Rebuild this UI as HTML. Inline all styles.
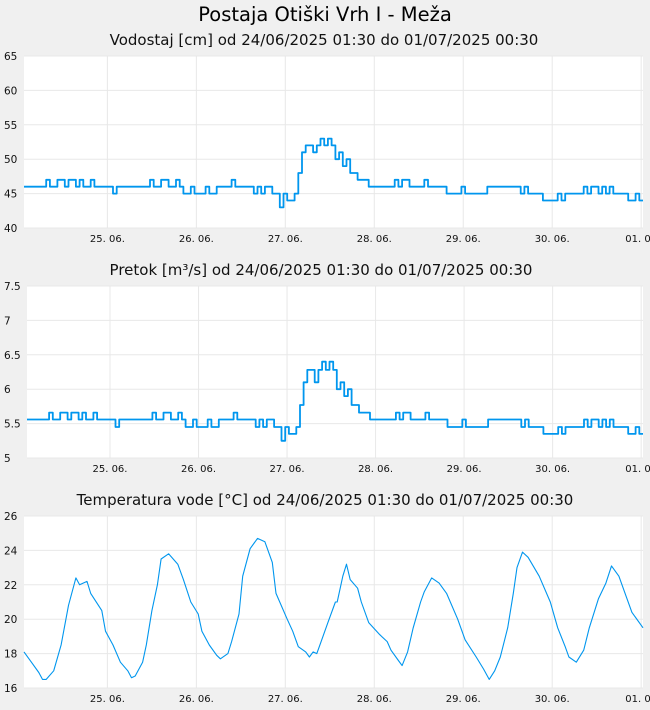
<!DOCTYPE html>
<html><head><meta charset="utf-8">
<style>
body{margin:0;background:#f0f0f0;font-family:"DejaVu Sans","Liberation Sans",sans-serif;}
svg{display:block}
</style></head>
<body>
<svg id="c" width="650" height="710" xmlns="http://www.w3.org/2000/svg" font-family="DejaVu Sans, Liberation Sans, sans-serif">
<rect width="650" height="710" fill="#f0f0f0"/>
<text x="325" y="21" font-size="19.5" text-anchor="middle" fill="#000">Postaja Otiški Vrh I - Meža</text>
</svg>
<script>
const dayLabels=["25. 06.","26. 06.","27. 06.","28. 06.","29. 06.","30. 06.","01. 07"];
const dayHours=[22.5,46.5,70.5,94.5,118.5,142.5,166.5];
const totalHours=167;
const levelTicks=[40,45,50,55,60,65];
const flowTicks=[5,5.5,6,6.5,7,7.5];
const flowTickLabels=["5","5.5","6","6.5","7","7.5"];
const tempTicks=[16,18,20,22,24,26];
const levelValues=[46,46,46,46,46,46,
47,46,46,47,47,46,47,47,46,47,46,46,47,46,46,46,46,46,
45,46,46,46,46,46,46,46,46,46,
47,46,46,47,47,46,46,47,46,
45,45,46,45,45,45,46,45,45,46,46,46,46,
47,46,46,46,46,46,
45,46,45,46,46,45,45,
43,45,44,44,45,
48,51,52,52,51,52,53,52,53,52,50,51,49,50,48,48,
47,47,47,
46,46,46,46,46,46,46,
47,46,47,47,46,
46,46,46,47,46,46,46,46,46,
45,45,45,45,46,45,45,45,45,45,45,
46,46,46,46,46,46,46,46,46,45,46,
45,45,45,45,
44,44,44,44,
45,44,45,
45,45,45,45,
46,45,46,46,45,46,45,46,
45,45,45,45,
44,44,45,44,44];
const flowValues=[5.56,5.56,5.56,5.56,5.56,5.56,
5.66,5.56,5.56,5.66,5.66,5.56,5.66,5.66,5.56,5.66,5.56,5.56,5.66,5.56,5.56,5.56,5.56,5.56,
5.45,5.56,5.56,5.56,5.56,5.56,5.56,5.56,5.56,5.56,
5.66,5.56,5.56,5.66,5.66,5.56,5.56,5.66,5.56,
5.45,5.45,5.56,5.45,5.45,5.45,5.56,5.45,5.45,5.56,5.56,5.56,5.56,
5.66,5.56,5.56,5.56,5.56,5.56,
5.45,5.56,5.45,5.56,5.56,5.45,5.45,
5.25,5.45,5.35,5.35,5.45,
5.77,6.1,6.28,6.28,6.1,6.28,6.4,6.28,6.4,6.28,6.0,6.1,5.9,6.0,5.77,5.77,
5.66,5.66,5.66,
5.56,5.56,5.56,5.56,5.56,5.56,5.56,
5.66,5.56,5.66,5.66,5.56,
5.56,5.56,5.56,5.66,5.56,5.56,5.56,5.56,5.56,
5.45,5.45,5.45,5.45,5.56,5.45,5.45,5.45,5.45,5.45,5.45,
5.56,5.56,5.56,5.56,5.56,5.56,5.56,5.56,5.56,5.45,5.56,
5.45,5.45,5.45,5.45,
5.35,5.35,5.35,5.35,
5.45,5.35,5.45,
5.45,5.45,5.45,5.45,
5.56,5.45,5.56,5.56,5.45,5.56,5.45,5.56,
5.45,5.45,5.45,5.45,
5.35,5.35,5.45,5.35,5.35];
const tempHours=[0,2,4,5,6,8,10,12,14,15,17,18,21,22,24,26,28,29,30,32,33,34.5,36,37,39,41.5,43,45,47,48,50,52,53,55,56,58,59,61,63,65,67,68,71,72.5,74,76,77,78,79,80,82,84,84.5,86,87,88,90,91,93,96,98,99,101,102,103.5,105,107,108,110,112,114,117,119,122,124,125.5,127,128.5,130.5,132,133,134.5,136,139,142,144,146,147,149,151,152.5,155,157,158.5,160.5,162.5,164,167];
const tempValues=[18.1,17.5,16.9,16.5,16.5,17.0,18.5,20.8,22.4,22.0,22.2,21.5,20.5,19.3,18.5,17.5,17.0,16.6,16.7,17.5,18.5,20.5,22.0,23.5,23.8,23.2,22.3,21.0,20.3,19.3,18.5,17.9,17.7,18.0,18.7,20.3,22.5,24.1,24.7,24.5,23.3,21.5,20.0,19.3,18.4,18.1,17.8,18.1,18.0,18.6,19.8,21.0,21.0,22.5,23.2,22.3,21.8,21.0,19.8,19.1,18.7,18.2,17.6,17.3,18.1,19.5,21.0,21.6,22.4,22.1,21.5,20.0,18.8,17.8,17.1,16.5,17.0,17.8,19.5,21.5,23.0,23.9,23.6,22.5,21.0,19.5,18.4,17.8,17.5,18.2,19.5,21.2,22.1,23.1,22.5,21.3,20.4,19.5];

const NS="http://www.w3.org/2000/svg";
const svg=document.getElementById('c');
function mk(tag,attrs,parent){const e=document.createElementNS(NS,tag);for(const k in attrs)e.setAttribute(k,attrs[k]);(parent||svg).appendChild(e);return e;}

function panel(cfg){
  const g=mk('g',{});
  
  
  const t=mk('text',{x:cfg.titleX,y:cfg.titleY,'font-size':15,'text-anchor':'middle',fill:'#111'},g);
  t.textContent=cfg.title;
  
  
  const r=mk('rect',{x:cfg.x0,y:cfg.y0,width:cfg.x1-cfg.x0,height:cfg.y1-cfg.y0,fill:'#fff'},g);
  
  
  const xs=h=>cfg.x0+h/totalHours*(cfg.x1-cfg.x0);
  const ys=v=>cfg.y1-(v-cfg.min)/(cfg.max-cfg.min)*(cfg.y1-cfg.y0);
  cfg.ticks.forEach((v,i)=>{
    const y=ys(v);
    const l=mk('line',{x1:cfg.x0,x2:cfg.x1,y1:y,y2:y,stroke:'#e8e8e8','stroke-width':1},g);
    
    
    const tx=mk('text',{x:4,y:y+4,'font-size':10.5,fill:'#111'},g);
    tx.textContent=cfg.tickLabels?cfg.tickLabels[i]:String(v);
    
    
  });
  dayHours.forEach((h,i)=>{
    const x=xs(h);
    const l=mk('line',{x1:x,x2:x,y1:cfg.y0,y2:cfg.y1,stroke:'#e8e8e8','stroke-width':1},g);
    
    
    const tx=mk('text',{x:x,y:cfg.y1+14,'font-size':10,'text-anchor':'middle',fill:'#111'},g);
    tx.textContent=dayLabels[i];
    
    
  });
  let d='';
  if(cfg.hours){
    cfg.values.forEach((v,i)=>{d+=(i?'L':'M')+xs(cfg.hours[i]).toFixed(1)+' '+ys(v).toFixed(1);});
  } else {
    cfg.values.forEach((v,i)=>{
      const xa=xs(i),xb=xs(Math.min(i+1,totalHours)),y=ys(v).toFixed(1);
      d+=(i?'L':'M')+xa.toFixed(1)+' '+y+'L'+xb.toFixed(1)+' '+y;
    });
  }
  const p=mk('path',{d:d,fill:'none',stroke:'#0096ee','stroke-width':cfg.sw,'stroke-linejoin':'round'},g);
  
  
}
panel({name:'water-level-panel',title:'Vodostaj [cm] od 24/06/2025 01:30 do 01/07/2025 00:30',titleX:324,titleY:45,x0:24,x1:643,y0:56,y1:228,min:40,max:65,ticks:levelTicks,values:levelValues,sw:1.8});
panel({name:'flow-panel',title:'Pretok [m³/s] od 24/06/2025 01:30 do 01/07/2025 00:30',titleX:321,titleY:275,x0:27,x1:643,y0:286,y1:458,min:5,max:7.5,ticks:flowTicks,tickLabels:flowTickLabels,values:flowValues,sw:1.8});
panel({name:'temperature-panel',title:'Temperatura vode [°C] od 24/06/2025 01:30 do 01/07/2025 00:30',titleX:325,titleY:505,x0:24,x1:643,y0:516,y1:688,min:16,max:26,ticks:tempTicks,values:tempValues,hours:tempHours,sw:1.1});
</script>
</body></html>
